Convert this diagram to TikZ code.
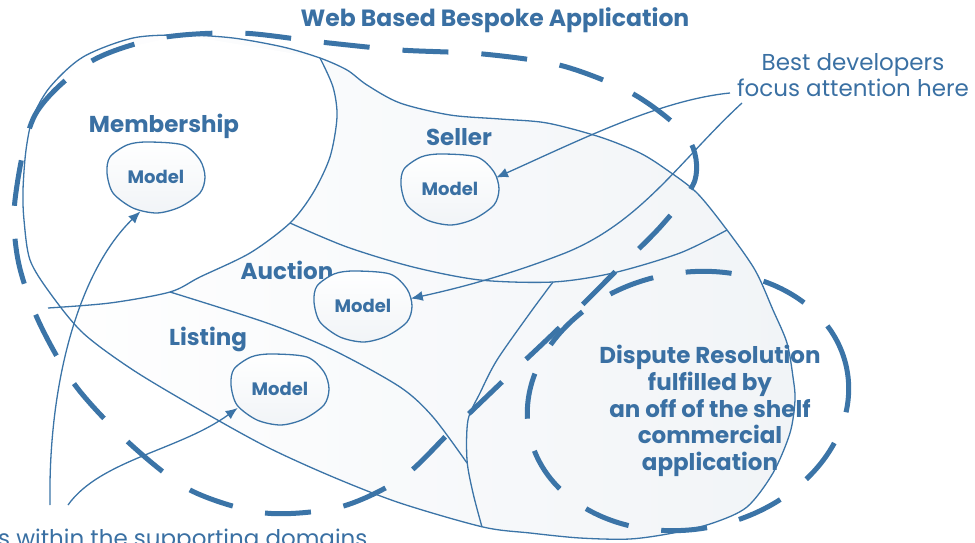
\documentclass[tikz,border=0pt]{standalone}
\usepackage{fontspec}
\setmainfont{Poppins}
\usetikzlibrary{arrows.meta,shapes.geometric}
\definecolor{ln}{HTML}{3B74A7}
\definecolor{tx}{HTML}{3A70A3}
\definecolor{shade}{HTML}{F1F4F7}
\begin{document}
\begin{tikzpicture}[x=1pt,y=-1pt,
  thinline/.style={draw=ln, line width=1.3pt},
  bigdash/.style={draw=ln, line width=5pt, dash pattern=on 46pt off 33pt},
  arr/.style={draw=ln, line width=1.3pt, -{Latex[length=12pt,width=10pt]}},
  title/.style={text=tx, anchor=base, inner sep=0pt, font=\bfseries\fontsize{23.5}{26}\selectfont},
  lab/.style={text=tx, anchor=base, inner sep=0pt, font=\bfseries\fontsize{23}{26}\selectfont},
  disp/.style={text=tx, align=center, font=\bfseries\fontsize{23}{26.75}\selectfont},
  mtext/.style={text=tx, anchor=base, inner sep=0pt, font=\bfseries\fontsize{18}{20}\selectfont},
  note/.style={text=tx, font=\fontsize{23}{26.5}\selectfont},
  modelnode/.style={ellipse, minimum width=98pt, minimum height=70pt, inner sep=0pt},
  blob/.style={thinline, top color=white, bottom color=shade}
]
\useasboundingbox (0,0) rectangle (975,543);
\clip (0,0) rectangle (975,543);

% outer blob fill
\path[left color=white, right color=shade] plot[smooth cycle] coordinates {
 (183,35) (233,38) (283,47) (320,58) (347,70) (367,85) (400,103) (450,115) (500,119)
 (547,123) (600,137) (640,153) (667,170) (697,193) (727,230) (755,270) (773,310)
 (787,343) (793,377) (795,400) (790,433) (773,473) (747,507) (713,523) (673,533)
 (630,539) (580,538) (530,533) (483,527) (400,503) (333,477) (267,447) (200,410)
 (133,370) (83,333) (50,293) (30,260) (24,220) (23,190) (26,150) (33,117) (50,87) (83,57) (133,38)};
% membership white
\fill[white] plot[smooth] coordinates {(320,58) (333,87) (337,117) (330,157) (313,193) (290,223) (250,253) (200,277) (170,292) (110,303) (55,308)}
 -- (40,283) -- (24,220) -- (33,117) -- (83,57) -- (183,35) -- cycle;

% outer line
\draw[thinline] plot[smooth cycle] coordinates {
 (183,35) (233,38) (283,47) (320,58) (347,70) (367,85) (400,103) (450,115) (500,119)
 (547,123) (600,137) (640,153) (667,170) (697,193) (727,230) (755,270) (773,310)
 (787,343) (793,377) (795,400) (790,433) (773,473) (747,507) (713,523) (673,533)
 (630,539) (580,538) (530,533) (483,527) (400,503) (333,477) (267,447) (200,410)
 (133,370) (83,333) (50,293) (30,260) (24,220) (23,190) (26,150) (33,117) (50,87) (83,57) (133,38)};

% inner boundaries
\draw[thinline] plot[smooth] coordinates {(320,58) (333,87) (337,117) (330,157) (313,193) (290,223) (250,253) (200,277) (170,292) (110,303) (48,308)};
\draw[thinline] plot[smooth] coordinates {(290,223) (347,247) (413,267) (480,280) (553,282) (613,273) (680,253) (727,230)};
\draw[thinline] plot[smooth] coordinates {(170,292) (267,323) (333,350) (400,387) (433,417) (467,463)};
\draw[thinline] plot[smooth] coordinates {(553,282) (530,313) (497,360) (480,393) (468,420) (467,460) (473,493) (482,527)};

% region labels
\node[lab] (lMem) at (164,132) {Membership};
\node[lab] (lSel) at (459,145) {Seller};
\node[lab] (lAuc) at (287,279) {Auction};
\node[lab] (lLis) at (208,345) {Listing};

% model blobs
\node[modelnode] (mM) at (156,178) {};
\node[modelnode] (mS) at (450,190) {};
\node[modelnode] (mA) at (363,307) {};
\node[modelnode] (mL) at (280,390) {};
\foreach \m in {mM,mS,mA,mL}{
  \draw[blob, shift={(\m.center)}] plot[smooth cycle] coordinates {
   (-49,-5) (-46,-21) (-29,-33) (-9,-36) (27,-33) (44,-18) (49,-1) (44,15) (24,29) (1,35) (-23,30) (-43,15)};
  \node[mtext] at ([yshift=-5pt]\m.center) {Model};
}

% texts
\node[title] (ttl) at (495,27) {Web Based Bespoke Application};
\node[note, align=center] (best) at (853,75) {Best developers\\focus attention here};
\node[disp] (dsp) at (710,411) {Dispute Resolution\\fulfilled by\\an off of the shelf\\commercial\\application};
\node[note, anchor=base west, inner sep=0pt] (supp) at (-2,546) {s within the supporting domains};

% arrow start points
\coordinate (s1) at (50,505);
\coordinate (s2) at (68,505);
\coordinate (s3) at (730,93);
\coordinate (s4) at (742,103);

\draw[arr] (s1) .. controls (48,380) and (80,270) .. (mM.245);
\draw[arr] (s2) .. controls (100,460) and (180,450) .. (mL.203);
\draw[arr] (s3) .. controls (660,100) and (580,140) .. (mS.15);
\draw[arr] (s4) .. controls (680,160) and (640,225) .. (560,255) .. controls (500,278) and (450,290) .. (mA.10);

% dashed boundaries
\draw[bigdash] plot[smooth cycle] coordinates {
 (15,200) (35,115) (90,62) (160,38) (240,33) (320,42) (400,50) (483,54) (563,66)
 (635,95) (688,138) (695,180) (662,225) (612,275) (557,330) (502,382) (452,430)
 (402,478) (340,507) (265,513) (190,490) (128,442) (75,385) (38,320) (18,260)};
\draw[bigdash, rotate around={12:(688,401)}] (688,401) ellipse [x radius=162pt, y radius=128pt];
\end{tikzpicture}
\end{document}
